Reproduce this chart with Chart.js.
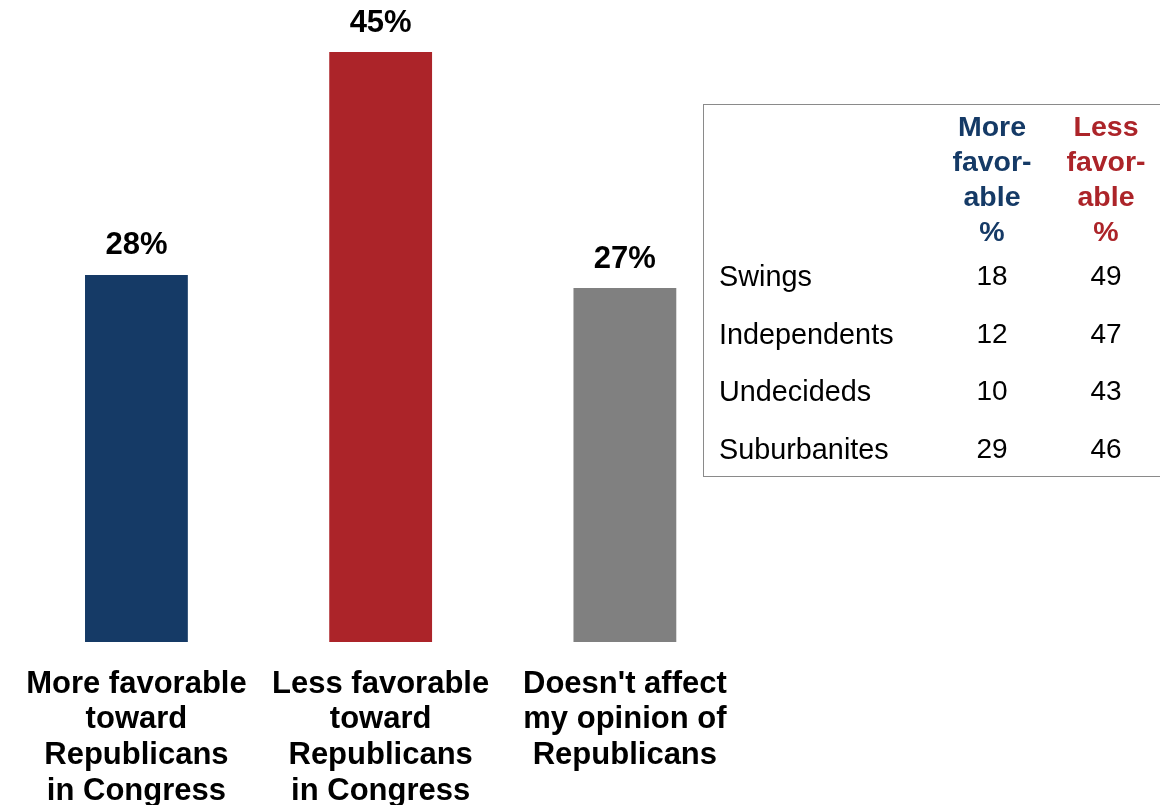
<!DOCTYPE html>
<html>
<head>
<meta charset="utf-8">
<script src="https://cdn.jsdelivr.net/npm/chart.js@4.4.1/dist/chart.umd.min.js"></script>
<style>
  html, body { margin: 0; padding: 0; background: #ffffff; }
  #wrap { position: relative; width: 1160px; height: 805px; overflow: hidden; }
  canvas { position: absolute; left: 0; top: 0; }
  #tbl { position: absolute; left: 703px; top: 104px; width: 470px; height: 373px;
         border: 1.5px solid #8a8a8a; box-sizing: border-box; font-family: "Liberation Sans", Arial, sans-serif; }
  .hdr { position: absolute; width: 120px; text-align: center; font-weight: bold; font-size: 28.5px; line-height: 35px; }
  .lbl { position: absolute; left: 15px; font-size: 28.8px; line-height: 30px; color: #000; }
  .num { position: absolute; width: 80px; text-align: center; font-size: 28px; line-height: 30px; color: #000; }
</style>
</head>
<body>
<div id="wrap">
  <canvas id="c" width="1160" height="805"></canvas>
  <div id="tbl"></div>
</div>
<script>
// ---- data ----
const categories = [
  ["More favorable", "toward", "Republicans", "in Congress"],
  ["Less favorable", "toward", "Republicans", "in Congress"],
  ["Doesn't affect", "my opinion of", "Republicans"]
];
const values = [28, 45, 27];
const barColors = ["#153a66", "#ac2429", "#808080"];

const tableHeaders = [["More", "favor-", "able", "%"], ["Less", "favor-", "able", "%"]];
const tableHeaderColors = ["#153a66", "#ac2429"];
const tableGroups = ["Swings", "Independents", "Undecideds", "Suburbanites"];
const tableMore = [18, 12, 10, 29];
const tableLess = [49, 47, 43, 46];

// ---- table (HTML text) ----
const tbl = document.getElementById('tbl');
const colCenters = [992 - 704, 1106 - 704];
tableHeaders.forEach((lines, i) => {
  const d = document.createElement('div');
  d.className = 'hdr';
  d.style.left = (colCenters[i] - 60) + 'px';
  d.style.top = (126 - 105 - 17.5) + 'px';
  d.style.color = tableHeaderColors[i];
  d.innerHTML = lines.join('<br>');
  tbl.appendChild(d);
});
const rowCenters = [276, 334, 391, 449];
tableGroups.forEach((g, r) => {
  const top = rowCenters[r] - 105 - 15;
  const l = document.createElement('div');
  l.className = 'lbl'; l.style.top = top + 'px'; l.textContent = g; tbl.appendChild(l);
  [tableMore[r], tableLess[r]].forEach((v, i) => {
    const n = document.createElement('div');
    n.className = 'num'; n.style.top = top + 'px';
    n.style.left = (colCenters[i] - 40) + 'px';
    n.textContent = v; tbl.appendChild(n);
  });
});

// ---- chart ----
const valueLabels = {
  id: 'valueLabels',
  afterDatasetsDraw(chart) {
    const ctx = chart.ctx;
    const meta = chart.getDatasetMeta(0);
    ctx.save();
    ctx.font = 'bold 31px "Liberation Sans", Arial, sans-serif';
    ctx.fillStyle = '#000';
    ctx.textAlign = 'center';
    ctx.textBaseline = 'middle';
    meta.data.forEach((bar, i) => {
      ctx.fillText(values[i] + '%', bar.x, bar.y - 29);
    });
    ctx.restore();
  }
};

new Chart(document.getElementById('c'), {
  type: 'bar',
  data: {
    labels: categories,
    datasets: [{
      data: values,
      backgroundColor: barColors,
      borderWidth: 0,
      categoryPercentage: 1,
      barPercentage: 0.421
    }]
  },
  options: {
    responsive: false,
    animation: false,
    devicePixelRatio: 1,
    layout: { padding: { top: 52, left: 13, right: 413, bottom: 0 } },
    plugins: { legend: { display: false }, tooltip: { enabled: false } },
    scales: {
      y: { display: false, min: 0, max: 45 },
      x: {
        border: { display: false },
        grid: { display: false, drawTicks: false },
        ticks: {
          autoSkip: false, maxRotation: 0, minRotation: 0,
          color: '#000', padding: 24,
          font: { family: '"Liberation Sans", Arial, sans-serif', size: 31, weight: 'bold', lineHeight: 1.16 }
        },
        afterFit(scale) { scale.height = 163; }
      }
    }
  },
  plugins: [valueLabels]
});
</script>
</body>
</html>
